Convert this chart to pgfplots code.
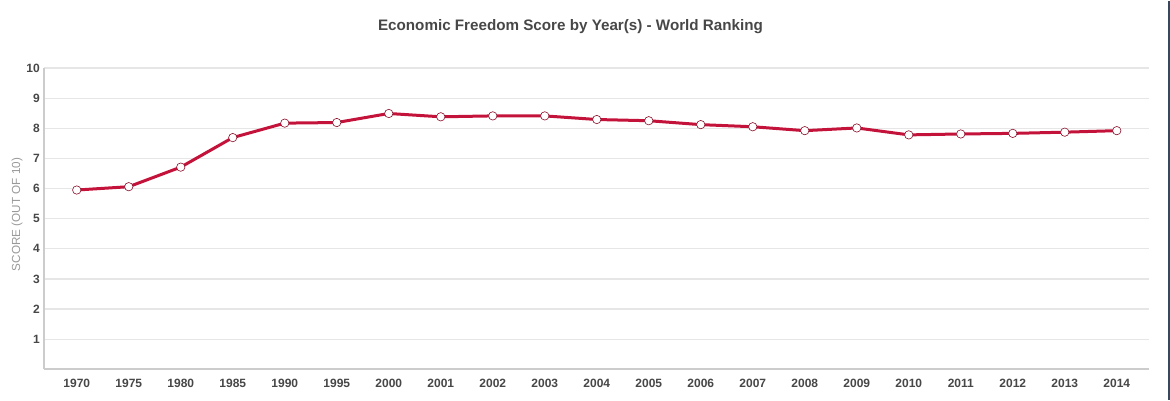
\documentclass[border=0pt]{standalone}
\usepackage{fontspec}
\setmainfont{Liberation Sans}
\usepackage{pgfplots}
\pgfplotsset{compat=1.18}
\definecolor{linec}{HTML}{C4133A}
\definecolor{gridc}{HTML}{E6E6E6}
\definecolor{axisc}{HTML}{CCCCCC}
\definecolor{textc}{HTML}{474747}
\definecolor{labc}{HTML}{999999}
\definecolor{borderc}{HTML}{34495E}
\begin{document}
\begin{tikzpicture}[x=1pt,y=1pt]
\path (0,0) rectangle (1170,399);
\begin{axis}[
  at={(44pt,30.7pt)}, anchor=south west,
  scale only axis, width=1105pt, height=301.3pt,
  xmin=-0.63, xmax=20.62, ymin=0, ymax=10,
  xtick={0,...,20},
  xticklabels={1970,1975,1980,1985,1990,1995,2000,2001,2002,2003,2004,2005,2006,2007,2008,2009,2010,2011,2012,2013,2014},
  ytick={1,...,10},
  ymajorgrids, major grid style={color=gridc, line width=1.2pt},
  axis x line*=bottom, axis y line*=left,
  axis line style={-, color=axisc, line width=1.6pt},
  major tick length=0pt,
  /pgf/number format/assume math mode=true,
  tick label style={font=\fontsize{12}{14}\selectfont\bfseries, color=textc},
  yticklabel style={inner sep=0pt, xshift=-4pt},
  xticklabel style={inner sep=0pt, yshift=-9.5pt},
  clip=false,
]
\addplot[color=linec, line width=3pt, mark=*, mark size=4.2pt,
  mark options={fill=white, draw=linec!70!black, line width=0.6pt}]
  coordinates {
  (0,5.95) (1,6.06) (2,6.71) (3,7.69) (4,8.17) (5,8.19) (6,8.49)
  (7,8.38) (8,8.41) (9,8.41) (10,8.29) (11,8.25) (12,8.12) (13,8.05)
  (14,7.92) (15,8.01) (16,7.78) (17,7.81) (18,7.83) (19,7.87) (20,7.92)
  };
\end{axis}
\node[anchor=base, font=\fontsize{15.2}{18}\selectfont\bfseries, text=textc] at (570.5,369.6) {Economic Freedom Score by Year(s) - World Ranking};
\node[rotate=90, font=\fontsize{11.7}{13}\selectfont, text=labc] at (17,185.5) {SCORE (OUT OF 10)};
\draw[color=borderc, line width=2pt] (1168.5,0) -- (1168.5,399);
\end{tikzpicture}
\end{document}
